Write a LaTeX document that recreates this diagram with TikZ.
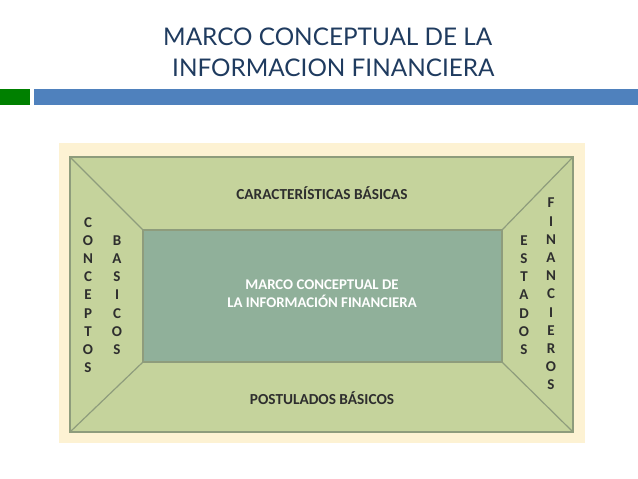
\documentclass[tikz,border=0pt]{standalone}
\usepackage{fontspec}
\setmainfont{Carlito}
\newfontfamily\titlefont{Lato}
\usetikzlibrary{positioning}

\definecolor{titleblue}{HTML}{1F3B5F}
\definecolor{barblue}{HTML}{4F81BD}
\definecolor{bargreen}{HTML}{008000}
\definecolor{creambg}{HTML}{FDF2D3}
\definecolor{framegreen}{HTML}{C5D39C}
\definecolor{coregreen}{HTML}{90B09A}
\definecolor{edgegreen}{HTML}{8E9C7C}
\definecolor{lettergray}{HTML}{2E2E2E}

\begin{document}
\begin{tikzpicture}[
  x=1pt, y=-1pt,
  title/.style={anchor=west, inner sep=0pt, font=\titlefont\fontsize{24.3}{24}\selectfont, text=titleblue},
  edge/.style={draw=edgegreen, line width=1.2pt},
  caption/.style={font=\bfseries\fontsize{15.3}{15}\selectfont, text=lettergray, inner sep=0pt},
  column/.style={font=\bfseries\fontsize{15}{18.2}\selectfont, text=lettergray, align=center, inner sep=0pt},
  core/.style={font=\bfseries\fontsize{14.8}{18}\selectfont, text=white, align=center, inner sep=0pt}
]
\useasboundingbox (0,0) rectangle (638,479);

% Title and header bars
\node[title] (title1) at (163,37) {MARCO CONCEPTUAL DE LA};
\node[title] (title2) at (172,68) {INFORMACION FINANCIERA};
\fill[bargreen] (0,89) rectangle (30,105);
\fill[barblue] (34,89) rectangle (638,105);

% Frame
\fill[creambg] (59,143) rectangle (585,443);
\coordinate (otl) at (70,157);
\coordinate (otr) at (573,157);
\coordinate (obr) at (573,432);
\coordinate (obl) at (70,432);
\coordinate (itl) at (143,230);
\coordinate (itr) at (502,230);
\coordinate (ibr) at (502,362);
\coordinate (ibl) at (143,362);
\filldraw[edge, fill=framegreen] (otl) rectangle (obr);
\filldraw[edge, fill=coregreen] (itl) rectangle (ibr);
\draw[edge] (otl) -- (itl);
\draw[edge] (otr) -- (itr);
\draw[edge] (obr) -- (ibr);
\draw[edge] (obl) -- (ibl);

% Labels
\node[caption] (carac) at (322,193) {CARACTERÍSTICAS BÁSICAS};
\node[caption] (postu) at (322,398) {POSTULADOS BÁSICOS};
\node[core] (marco) at (322,294) {MARCO CONCEPTUAL DE\\LA INFORMACIÓN FINANCIERA};
\node[column] (conceptos) at (88,295) {C\\O\\N\\C\\E\\P\\T\\O\\S};
\node[column] (basicos) at (117,295) {B\\A\\S\\I\\C\\O\\S};
\node[column] (estados) at (524,295) {E\\S\\T\\A\\D\\O\\S};
\node[column] (financieros) at (551,294) {F\\I\\N\\A\\N\\C\\I\\E\\R\\O\\S};

\end{tikzpicture}
\end{document}
